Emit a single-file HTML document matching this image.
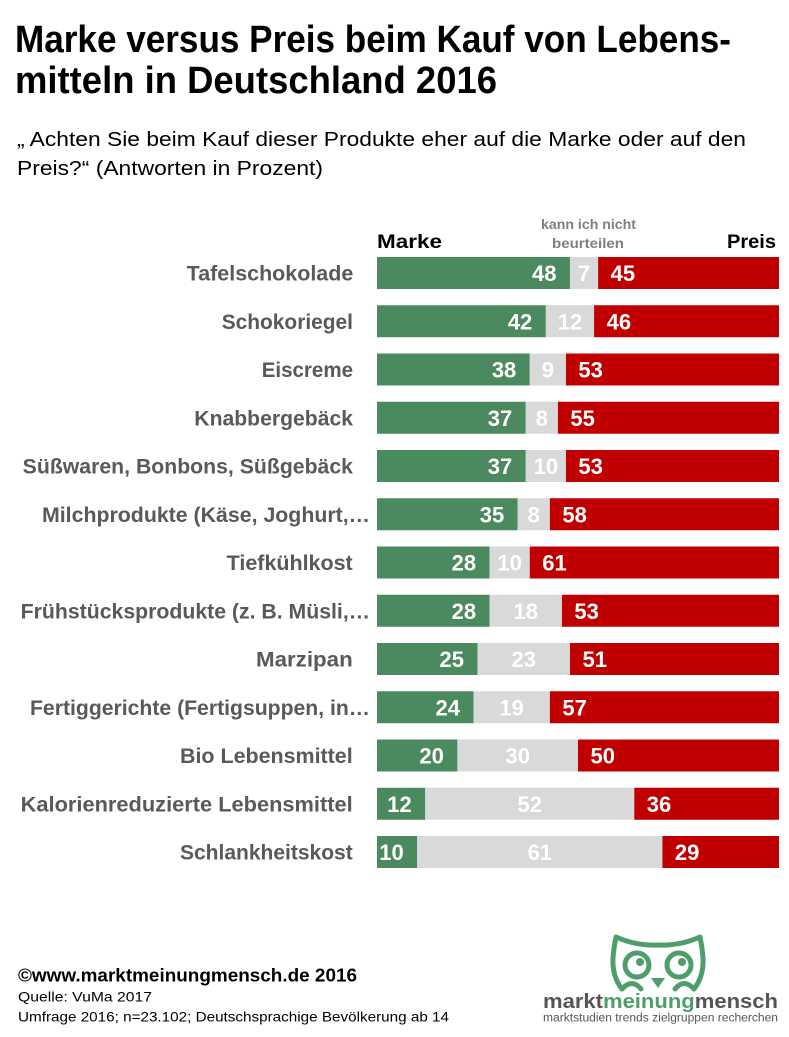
<!DOCTYPE html>
<html><head><meta charset="utf-8"><style>
html,body{margin:0;padding:0;background:#fff;}
svg{display:block;}
text{font-family:"Liberation Sans",Arial,sans-serif;}
.t{font-weight:bold;font-size:38px;fill:#000;}
.s{font-size:20px;fill:#000;}
.l{font-weight:bold;font-size:21px;fill:#595959;}
.n{font-weight:bold;font-size:22px;fill:#fff;}
.g{fill:#4b8a5f;}.k{fill:#d9d9d9;}.r{fill:#c00000;}
</style></head><body>
<svg width="789" height="1037" viewBox="0 0 789 1037" xmlns="http://www.w3.org/2000/svg">
<rect width="789" height="1037" fill="#fff"/>
<text class="t" x="15" y="52" textLength="716" lengthAdjust="spacingAndGlyphs">Marke versus Preis beim Kauf von Lebens-</text>
<text class="t" x="15" y="93" textLength="482" lengthAdjust="spacingAndGlyphs">mitteln in Deutschland 2016</text>
<text class="s" x="17" y="146" textLength="729" lengthAdjust="spacingAndGlyphs">„ Achten Sie beim Kauf dieser Produkte eher auf die Marke oder auf den</text>
<text class="s" x="17" y="175" textLength="306" lengthAdjust="spacingAndGlyphs">Preis?“ (Antworten in Prozent)</text>

<text x="377" y="248" font-weight="bold" font-size="19.5" fill="#000" textLength="65" lengthAdjust="spacingAndGlyphs">Marke</text>
<text x="727" y="248" font-weight="bold" font-size="19.5" fill="#000" textLength="49" lengthAdjust="spacingAndGlyphs">Preis</text>
<text x="541" y="229" font-weight="bold" font-size="14" fill="#7f7f7f" textLength="95" lengthAdjust="spacingAndGlyphs">kann ich nicht</text>
<text x="552" y="248" font-weight="bold" font-size="14" fill="#7f7f7f" textLength="72" lengthAdjust="spacingAndGlyphs">beurteilen</text>

<!-- row 0 -->
<text class="l" x="186.7" y="280.5" textLength="166.6" lengthAdjust="spacingAndGlyphs">Tafelschokolade</text>
<rect class="g" x="377" y="257" width="192.96" height="32"/><rect class="k" x="569.96" y="257" width="28.14" height="32"/><rect class="r" x="598.1" y="257" width="180.9" height="32"/>
<text class="n" x="556.5" y="281" text-anchor="end">48</text><text class="n" x="584.03" y="281" text-anchor="middle">7</text><text class="n" x="610.6" y="281">45</text>
<!-- row 1 -->
<text class="l" x="221.7" y="328.75" textLength="131.3" lengthAdjust="spacingAndGlyphs">Schokoriegel</text>
<rect class="g" x="377" y="305.25" width="168.84" height="32"/><rect class="k" x="545.84" y="305.25" width="48.24" height="32"/><rect class="r" x="594.08" y="305.25" width="184.92" height="32"/>
<text class="n" x="532.3" y="329.25" text-anchor="end">42</text><text class="n" x="569.96" y="329.25" text-anchor="middle">12</text><text class="n" x="606.6" y="329.25">46</text>
<!-- row 2 -->
<text class="l" x="261.7" y="377" textLength="91.3" lengthAdjust="spacingAndGlyphs">Eiscreme</text>
<rect class="g" x="377" y="353.5" width="152.76" height="32"/><rect class="k" x="529.76" y="353.5" width="36.18" height="32"/><rect class="r" x="565.94" y="353.5" width="213.06" height="32"/>
<text class="n" x="516.3" y="377.5" text-anchor="end">38</text><text class="n" x="547.85" y="377.5" text-anchor="middle">9</text><text class="n" x="578.4" y="377.5">53</text>
<!-- row 3 -->
<text class="l" x="194.3" y="425.25" textLength="158.7" lengthAdjust="spacingAndGlyphs">Knabbergebäck</text>
<rect class="g" x="377" y="401.75" width="148.74" height="32"/><rect class="k" x="525.74" y="401.75" width="32.16" height="32"/><rect class="r" x="557.9" y="401.75" width="221.1" height="32"/>
<text class="n" x="512.2" y="425.75" text-anchor="end">37</text><text class="n" x="541.82" y="425.75" text-anchor="middle">8</text><text class="n" x="570.4" y="425.75">55</text>
<!-- row 4 -->
<text class="l" x="22.7" y="473.5" textLength="330.3" lengthAdjust="spacingAndGlyphs">Süßwaren, Bonbons, Süßgebäck</text>
<rect class="g" x="377" y="450" width="148.74" height="32"/><rect class="k" x="525.74" y="450" width="40.2" height="32"/><rect class="r" x="565.94" y="450" width="213.06" height="32"/>
<text class="n" x="512.2" y="474" text-anchor="end">37</text><text class="n" x="545.84" y="474" text-anchor="middle">10</text><text class="n" x="578.4" y="474">53</text>
<!-- row 5 -->
<text class="l" x="42" y="521.75" textLength="328" lengthAdjust="spacingAndGlyphs">Milchprodukte (Käse, Joghurt,…</text>
<rect class="g" x="377" y="498.25" width="140.7" height="32"/><rect class="k" x="517.7" y="498.25" width="32.16" height="32"/><rect class="r" x="549.86" y="498.25" width="229.14" height="32"/>
<text class="n" x="504.2" y="522.25" text-anchor="end">35</text><text class="n" x="533.78" y="522.25" text-anchor="middle">8</text><text class="n" x="562.4" y="522.25">58</text>
<!-- row 6 -->
<text class="l" x="226.7" y="570" textLength="126" lengthAdjust="spacingAndGlyphs">Tiefkühlkost</text>
<rect class="g" x="377" y="546.5" width="112.56" height="32"/><rect class="k" x="489.56" y="546.5" width="40.2" height="32"/><rect class="r" x="529.76" y="546.5" width="249.24" height="32"/>
<text class="n" x="476.1" y="570.5" text-anchor="end">28</text><text class="n" x="509.66" y="570.5" text-anchor="middle">10</text><text class="n" x="542.3" y="570.5">61</text>
<!-- row 7 -->
<text class="l" x="20.7" y="618.25" textLength="349.3" lengthAdjust="spacingAndGlyphs">Frühstücksprodukte (z. B. Müsli,…</text>
<rect class="g" x="377" y="594.75" width="112.56" height="32"/><rect class="k" x="489.56" y="594.75" width="72.36" height="32"/><rect class="r" x="561.92" y="594.75" width="217.08" height="32"/>
<text class="n" x="476.1" y="618.75" text-anchor="end">28</text><text class="n" x="525.74" y="618.75" text-anchor="middle">18</text><text class="n" x="574.4" y="618.75">53</text>
<!-- row 8 -->
<text class="l" x="256" y="666.5" textLength="96.7" lengthAdjust="spacingAndGlyphs">Marzipan</text>
<rect class="g" x="377" y="643" width="100.5" height="32"/><rect class="k" x="477.5" y="643" width="92.46" height="32"/><rect class="r" x="569.96" y="643" width="209.04" height="32"/>
<text class="n" x="464" y="667" text-anchor="end">25</text><text class="n" x="523.73" y="667" text-anchor="middle">23</text><text class="n" x="582.5" y="667">51</text>
<!-- row 9 -->
<text class="l" x="30" y="714.75" textLength="340" lengthAdjust="spacingAndGlyphs">Fertiggerichte (Fertigsuppen, in…</text>
<rect class="g" x="377" y="691.25" width="96.48" height="32"/><rect class="k" x="473.48" y="691.25" width="76.38" height="32"/><rect class="r" x="549.86" y="691.25" width="229.14" height="32"/>
<text class="n" x="460" y="715.25" text-anchor="end">24</text><text class="n" x="511.67" y="715.25" text-anchor="middle">19</text><text class="n" x="562.4" y="715.25">57</text>
<!-- row 10 -->
<text class="l" x="180" y="763" textLength="172.7" lengthAdjust="spacingAndGlyphs">Bio Lebensmittel</text>
<rect class="g" x="377" y="739.5" width="80.4" height="32"/><rect class="k" x="457.4" y="739.5" width="120.6" height="32"/><rect class="r" x="578" y="739.5" width="201" height="32"/>
<text class="n" x="443.9" y="763.5" text-anchor="end">20</text><text class="n" x="517.7" y="763.5" text-anchor="middle">30</text><text class="n" x="590.5" y="763.5">50</text>
<!-- row 11 -->
<text class="l" x="20.7" y="811.25" textLength="332" lengthAdjust="spacingAndGlyphs">Kalorienreduzierte Lebensmittel</text>
<rect class="g" x="377" y="787.75" width="48.24" height="32"/><rect class="k" x="425.24" y="787.75" width="209.04" height="32"/><rect class="r" x="634.28" y="787.75" width="144.72" height="32"/>
<text class="n" x="411.7" y="811.75" text-anchor="end">12</text><text class="n" x="529.76" y="811.75" text-anchor="middle">52</text><text class="n" x="646.8" y="811.75">36</text>
<!-- row 12 -->
<text class="l" x="180" y="859.5" textLength="172.7" lengthAdjust="spacingAndGlyphs">Schlankheitskost</text>
<rect class="g" x="377" y="836" width="40.2" height="32"/><rect class="k" x="417.2" y="836" width="245.22" height="32"/><rect class="r" x="662.42" y="836" width="116.58" height="32"/>
<text class="n" x="403.7" y="860" text-anchor="end">10</text><text class="n" x="539.81" y="860" text-anchor="middle">61</text><text class="n" x="674.9" y="860">29</text>

<!-- footer -->
<text x="18" y="981.7" font-weight="bold" font-size="18" fill="#000" textLength="339" lengthAdjust="spacingAndGlyphs">©www.marktmeinungmensch.de 2016</text>
<text x="18" y="1001.7" font-size="14" fill="#000" textLength="134" lengthAdjust="spacingAndGlyphs">Quelle: VuMa 2017</text>
<text x="18" y="1021.7" font-size="14" fill="#000" textLength="431" lengthAdjust="spacingAndGlyphs">Umfrage 2016; n=23.102; Deutschsprachige Bevölkerung ab 14</text>

<!-- logo owl -->
<g fill="none" stroke="#4e9e6c" stroke-width="5" stroke-linejoin="round" stroke-linecap="round">
<path d="M622,989 Q612,976 613,958 Q614,946 616,937 Q636,946 658,945 Q680,946 700,937 Q702,946 703,958 Q704,976 694,989"/>
<circle cx="637" cy="965" r="12"/>
<circle cx="679" cy="965" r="12"/>
<path d="M622,989 Q632,978 641,989"/>
<path d="M675,989 Q684,978 694,989"/>
</g>
<g fill="#4e9e6c">
<circle cx="640" cy="962" r="4"/>
<circle cx="682" cy="962" r="4"/>
<path d="M651,978 L665,978 L658,988 Z"/>
</g>
<text x="543" y="1008" font-weight="bold" font-size="20" textLength="235" lengthAdjust="spacingAndGlyphs"><tspan fill="#555">markt</tspan><tspan fill="#4e9e6c">meinung</tspan><tspan fill="#555">mensch</tspan></text>
<text x="543" y="1021.7" font-size="11.5" fill="#555" textLength="235" lengthAdjust="spacingAndGlyphs">marktstudien trends zielgruppen recherchen</text>
</svg>
</body></html>
